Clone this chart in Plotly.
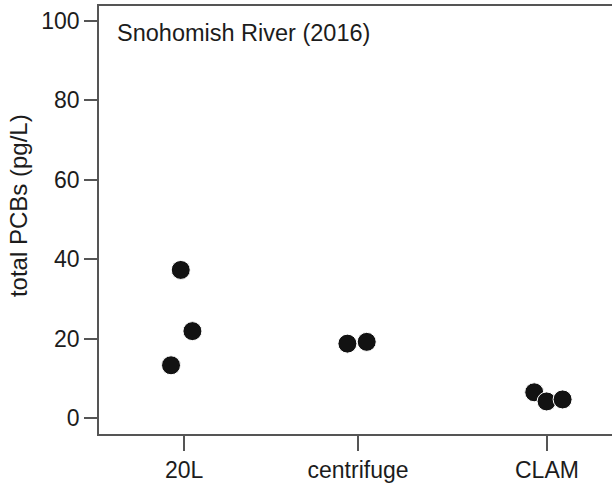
import plotly.graph_objects as go

# ---- data ----
categories = ["20L", "centrifuge", "CLAM"]
category_pos = [1.0, 2.0, 3.086]
pcb_20L = [37.3, 21.9, 13.3]
pcb_centrifuge = [18.75, 19.2]
pcb_CLAM = [6.5, 4.2, 4.7]
jitter_20L = [-0.019, 0.048, -0.075]
jitter_centrifuge = [-0.061, 0.050]
jitter_CLAM = [-0.073, -0.002, 0.090]
y_ticks = [0, 20, 40, 60, 80, 100]
title_text = "Snohomish River (2016)"
y_label = "total PCBs (pg/L)"

values = [pcb_20L, pcb_centrifuge, pcb_CLAM]
jitters = [jitter_20L, jitter_centrifuge, jitter_CLAM]

xs, ys = [], []
for pos, vals, jit in zip(category_pos, values, jitters):
    for v, j in zip(vals, jit):
        xs.append(pos + j)
        ys.append(v)

FONT = "Liberation Sans, Arial, sans-serif"
TXT = "#1c1c1c"
AX = "#555555"

fig = go.Figure()
fig.add_trace(go.Scatter(
    x=xs, y=ys, mode="markers",
    marker=dict(size=19, color="#121212", line=dict(color="white", width=1)),
    showlegend=False, hoverinfo="skip",
))

fig.update_layout(
    width=612, height=483,
    margin=dict(l=99, r=0, t=6, b=46),
    paper_bgcolor="white", plot_bgcolor="white",
    font=dict(family=FONT, size=23, color=TXT),
    xaxis=dict(
        range=[0.511, 3.460],
        tickmode="array", tickvals=category_pos, ticktext=categories,
        ticks="outside", ticklen=15, tickwidth=1.5, tickcolor=AX,
        showline=True, linecolor=AX, linewidth=1.5, mirror=True,
        showgrid=False, zeroline=False,
        tickfont=dict(size=23, color=TXT),
    ),
    yaxis=dict(
        range=[-4, 103.75],
        tickmode="array", tickvals=y_ticks,
        ticks="outside", ticklen=13, tickwidth=1.5, tickcolor=AX,
        showline=True, linecolor=AX, linewidth=1.5, mirror=False,
        showgrid=False, zeroline=False,
        tickfont=dict(size=23, color=TXT),
    ),
    annotations=[
        dict(text=title_text, xref="paper", yref="paper",
             x=(115 - 99) / 513, y=(437 - 33) / 431,
             xanchor="left", yanchor="middle", showarrow=False,
             font=dict(size=23.5, color=TXT, family=FONT)),
        dict(text=y_label, xref="paper", yref="paper",
             x=(18 - 99) / 513, y=(437 - 207.5) / 431,
             xanchor="center", yanchor="middle", textangle=-90,
             showarrow=False, font=dict(size=24, color=TXT, family=FONT)),
    ],
)

fig.write_html("out.html", config={"displayModeBar": False})
